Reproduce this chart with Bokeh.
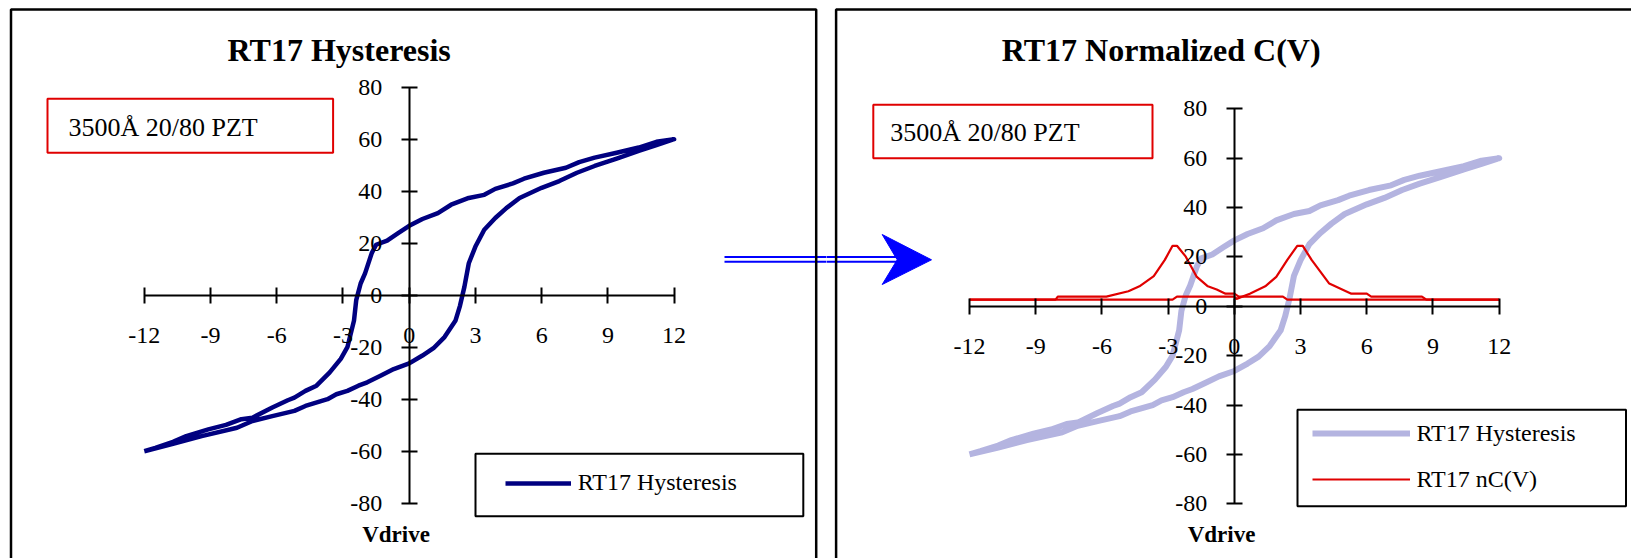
from bokeh.plotting import figure
from bokeh.models import (Range1d, LinearAxis, FixedTicker, BoxAnnotation, Label,
                          Legend, LegendItem)
from bokeh.layouts import row
from bokeh.embed import file_html
from bokeh.resources import INLINE

# ---------------- data ----------------
# ascending branch of the hysteresis loop (Vdrive, polarization)
v_up = [-12.0, -10.7, -9.4, -7.8, -7.1, -6.2, -5.2, -4.7, -3.7, -3.3, -2.8, -2.3,
        -1.9, -1.3, -0.7, 0.0, 0.6, 1.1, 1.6, 2.1, 2.3, 2.5, 2.7, 3.0, 3.4, 3.9,
        4.4, 5.0, 6.0, 6.8, 7.6, 8.4, 9.4, 10.4, 11.2, 12.0]
p_up = [-60.0, -57.2, -54.2, -51.0, -48.4, -46.5, -44.5, -42.6, -40.0, -38.1, -36.8, -34.8,
        -33.5, -31.0, -28.4, -26.2, -23.2, -20.4, -16.1, -9.7, -4.1, 3.2, 12.3, 18.7, 25.2, 29.7,
        33.5, 37.4, 41.3, 43.9, 47.1, 49.7, 52.5, 55.5, 57.7, 60.0]
# descending branch
v_down = [12.0, 11.2, 10.4, 9.4, 8.4, 7.7, 7.1, 6.1, 5.2, 4.7, 3.9, 3.4, 2.7, 1.9, 1.3,
          0.6, 0.0, -0.5, -1.0, -1.5, -1.7, -2.0, -2.2, -2.4, -2.5, -2.8, -3.1, -3.6,
          -4.2, -4.7, -5.2, -5.5, -6.2, -7.1, -7.6, -8.3, -9.1, -10.1, -10.7, -11.5, -12.0]
p_down = [60.0, 59.0, 56.8, 54.8, 52.9, 51.2, 49.0, 47.1, 44.8, 43.0, 40.9, 38.6, 37.4, 34.8, 31.6,
          29.3, 26.7, 23.9, 21.0, 19.4, 16.1, 8.4, 4.5, -1.9, -9.7, -20.0, -24.5, -29.7,
          -34.8, -36.8, -39.4, -40.4, -43.2, -47.1, -47.7, -49.9, -51.6, -54.2, -56.4, -58.7, -60.0]

# normalized C(V), two sweeps
ncv_down_v = [-12.0, -8.1, -8.0, -5.8, -4.8, -4.3, -3.65, -3.15, -2.8, -2.6, -2.2, -1.7,
              -1.2, -0.8, -0.4, 0.0, 0.2, 2.2, 2.4, 12.0]
ncv_down = [2.7, 2.7, 3.9, 3.9, 6.1, 8.1, 12.2, 18.8, 24.5, 24.5, 20.1, 11.9,
            8.1, 6.8, 5.1, 5.1, 3.9, 3.9, 2.7, 2.7]
ncv_up_v = [-12.0, -2.8, -2.6, 0.0, 0.1, 0.7, 1.4, 1.9, 2.4, 2.85, 3.1, 3.5,
            4.3, 5.3, 6.0, 6.2, 8.5, 8.7, 12.0]
ncv_up = [2.7, 2.7, 3.9, 3.9, 3.0, 5.1, 8.1, 11.9, 18.8, 24.5, 24.5, 18.8,
          9.2, 5.1, 5.1, 3.9, 3.9, 2.7, 2.7]

x_ticks = [-12, -9, -6, -3, 0, 3, 6, 9, 12]
y_ticks = [-80, -60, -40, -20, 0, 20, 40, 60, 80]
titles = ["RT17 Hysteresis", "RT17 Normalized C(V)"]
sample_note = "3500Å 20/80 PZT"
x_title = "Vdrive"
series_names = ["RT17 Hysteresis", "RT17 nC(V)"]

hyst_v = v_up + v_down
hyst_p = p_up + p_down

# ---------------- style / layout (page pixels) ----------------
FONT = "Liberation Serif"
PAGE = 0
H = 558
NAVY = "#000080"
LAV = "#b4b4e0"
RED = "#e00000"
BLUE = "#0000ff"
BASE_SHIFT = 0.29   # Label alphabetic-baseline correction (fraction of font size)
LEG_ITEM_H = 30


def make_panel(canvas_left, width, xpx, ypx):
    """xpx: page x of first/last x tick; ypx: page y of top/bottom y tick."""
    sx = (xpx[1] - xpx[0]) / (x_ticks[-1] - x_ticks[0])
    sy = (ypx[1] - ypx[0]) / (y_ticks[-1] - y_ticks[0])

    def X(px):
        return x_ticks[0] + (px - xpx[0]) / sx

    def Y(py):
        return y_ticks[-1] - (py - ypx[0]) / sy

    p = figure(width=width, height=H,
               x_range=Range1d(X(canvas_left), X(canvas_left + width)),
               y_range=Range1d(Y(PAGE + H), Y(PAGE)),
               x_axis_type=None, y_axis_type=None,
               output_backend="svg", toolbar_location=None,
               min_border=0, outline_line_color=None,
               background_fill_color="white", border_fill_color="white")

    common = dict(axis_line_width=2, axis_line_color="black",
                  major_tick_line_width=2, major_tick_line_color="black",
                  major_tick_in=8, major_tick_out=8, minor_tick_line_color=None,
                  major_label_text_font=FONT, major_label_text_font_size="24px",
                  major_label_text_color="black")
    xa = LinearAxis(fixed_location=0, bounds=(x_ticks[0], x_ticks[-1]),
                    ticker=FixedTicker(ticks=x_ticks),
                    major_label_overrides={t: str(t) for t in x_ticks},
                    major_label_standoff=25, **common)
    ya = LinearAxis(fixed_location=0, bounds=(y_ticks[0], y_ticks[-1]),
                    ticker=FixedTicker(ticks=y_ticks),
                    major_label_overrides={t: str(t) for t in y_ticks},
                    major_label_standoff=19, **common)
    p.add_layout(xa, "below")
    p.add_layout(ya, "left")
    return p, X, Y


def legend_loc(canvas_left, glyph_left_px, last_center_px):
    # bottom of the last legend item, measured from the canvas bottom
    bottom_px = last_center_px + LEG_ITEM_H / 2
    return (glyph_left_px - canvas_left, PAGE + H - bottom_px)


def text(p, X, Y, xy, txt, size, align="left", bold=False):
    p.add_layout(Label(x=X(xy[0]), y=Y(xy[1] - BASE_SHIFT * size), text=txt,
                       text_align=align, text_baseline="alphabetic",
                       text_font=FONT, text_font_size=f"{size}px",
                       text_font_style="bold" if bold else "normal",
                       text_color="black"))


def box(p, X, Y, b, color, width, fill=None):
    p.add_layout(BoxAnnotation(left=X(b[0]), right=X(b[1]), top=Y(b[2]), bottom=Y(b[3]),
                               fill_color=fill if fill else "white",
                               fill_alpha=1 if fill else 0,
                               line_color=color, line_alpha=1, line_width=width))


def decorate(p, X, Y, border, title_xy, title, note_box, note_xy, xlabel_xy):
    box(p, X, Y, border, "black", 2.5)
    text(p, X, Y, title_xy, title, 32, align="center", bold=True)
    box(p, X, Y, note_box, RED, 2)
    text(p, X, Y, note_xy, sample_note, 26)
    text(p, X, Y, xlabel_xy, x_title, 23, align="center", bold=True)


def make_legend(items, canvas_left, glyph_left_px, last_center_px, glyph_w, spacing):
    return Legend(items=items,
                  location=legend_loc(canvas_left, glyph_left_px, last_center_px),
                  padding=0, margin=0, spacing=spacing,
                  glyph_width=glyph_w, glyph_height=LEG_ITEM_H, label_height=LEG_ITEM_H,
                  label_standoff=7,
                  border_line_alpha=0, background_fill_alpha=0,
                  label_text_font=FONT, label_text_font_size="24px",
                  label_text_color="black")


# ---------------- left panel ----------------
L_LEFT, L_W = PAGE, 826
p1, X1, Y1 = make_panel(L_LEFT, L_W, (143.8, 673.6), (86.7, 502.7))
decorate(p1, X1, Y1, (10.5, 815.7, 9.0, 600.0), (338.7, 58.3), titles[0],
         (47.0, 332.6, 98.3, 152.3), (68.0, 135.0), (395.5, 540.5))

# arrow shaft (part inside the left canvas)
for ay in (256.5, 261.2):
    p1.line([X1(724), X1(840)], [Y1(ay), Y1(ay)], line_color=BLUE, line_width=2)

r1 = p1.line(hyst_v, hyst_p, line_color=NAVY, line_width=4.5, line_join="round")

box(p1, X1, Y1, (475.0, 802.8, 453.3, 515.7), "black", 2, fill="white")
p1.add_layout(make_legend([LegendItem(label=series_names[0], renderers=[r1])],
                          L_LEFT, 504.7, 482.5, 66, 0))

# ---------------- right panel ----------------
R_LEFT, R_W = PAGE + L_W, 805
p2, X2, Y2 = make_panel(R_LEFT, R_W, (969.0, 1498.7), (108.3, 503.3))
decorate(p2, X2, Y2, (835.6, 1700.0, 9.0, 600.0), (1160.7, 58.3), titles[1],
         (872.8, 1152.0, 104.3, 157.7), (889.8, 140.0), (1221.0, 540.5))

for ay in (256.5, 261.2):
    p2.line([X2(800), X2(897)], [Y2(ay), Y2(ay)], line_color=BLUE, line_width=2)
head_px = [(881.7, 234.0), (931.0, 259.3), (881.7, 284.0), (896.7, 259.3)]
p2.patch([X2(a) for a, b in head_px], [Y2(b) for a, b in head_px],
         fill_color=BLUE, line_color=BLUE, line_width=1)

r2 = p2.line(hyst_v, hyst_p, line_color=LAV, line_width=6, line_join="round")
r3 = p2.line(ncv_down_v, ncv_down, line_color=RED, line_width=2.2)
p2.line(ncv_up_v, ncv_up, line_color=RED, line_width=2.2)

box(p2, X2, Y2, (1297.0, 1625.5, 409.3, 505.7), "black", 2, fill="white")
p2.add_layout(make_legend([LegendItem(label=series_names[0], renderers=[r2]),
                           LegendItem(label=series_names[1], renderers=[r3])],
                          R_LEFT, 1311.5, 479.0, 98, 16))

layout = row(p1, p2, spacing=0)
open("out.html", "w").write(file_html(layout, INLINE))
